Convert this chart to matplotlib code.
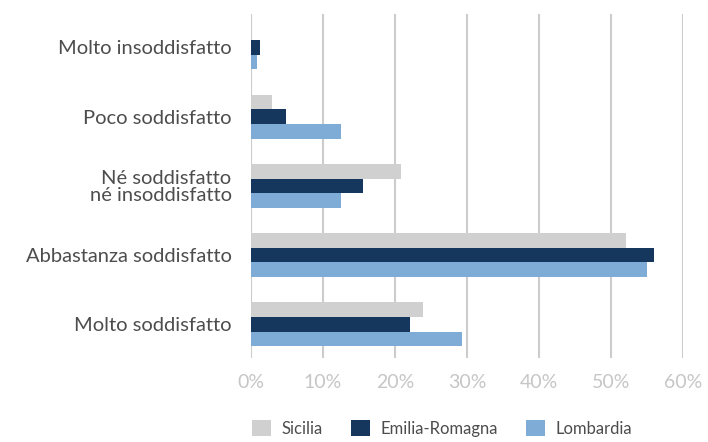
import matplotlib
matplotlib.use("Agg")
import matplotlib.pyplot as plt
from matplotlib.patches import Patch
from matplotlib.ticker import PercentFormatter

# answers, top to bottom
categories = ["Molto insoddisfatto", "Poco soddisfatto",
              "Né soddisfatto\nné insoddisfatto",
              "Abbastanza soddisfatto", "Molto soddisfatto"]

# shares (%) per region
sicilia = [0.0, 2.9, 20.8, 52.1, 23.9]
emilia = [1.3, 4.8, 15.6, 56.0, 22.1]
lombardia = [0.9, 12.5, 12.5, 55.0, 29.3]

regions = ["Sicilia", "Emilia-Romagna", "Lombardia"]
colors = ["#d0d0d0", "#15375d", "#7eacd6"]
xticks = [0, 10, 20, 30, 40, 50, 60]

plt.rcParams["font.family"] = ["Lato", "DejaVu Sans"]

fig = plt.figure(figsize=(7.08, 4.42), dpi=100)
ax = fig.add_axes([0.3545, 0.191, 0.6105, 0.777])

h = 0.212
ys = range(len(categories))
for k, (vals, col) in enumerate(zip([sicilia, emilia, lombardia], colors)):
    ax.barh([y + (k - 1) * h for y in ys], vals, height=h, color=col,
            zorder=3, linewidth=0)

ax.set_xlim(0, 60)
ax.set_ylim(4.48, -0.48)
ax.set_xticks(xticks)
ax.xaxis.set_major_formatter(PercentFormatter(decimals=0))
ax.set_yticks(list(ys))
ax.set_yticklabels(categories, fontsize=14.5, color="#4d4d4d",
                   linespacing=0.95)
ax.tick_params(axis="x", length=0, pad=12, labelsize=14, labelcolor="#c6c6c6")
ax.tick_params(axis="y", length=0, pad=14)

ax.grid(axis="x", color="#cccccc", linewidth=1.5, zorder=0)
for s in ax.spines.values():
    s.set_visible(False)

handles = [Patch(facecolor=c, edgecolor="none") for c in colors]
fig.legend(handles, regions, loc="lower left", ncol=3,
           bbox_to_anchor=(0.335, -0.022), frameon=False,
           prop={"size": 12}, labelcolor="#4d4d4d",
           handlelength=1.15, handleheight=1.15, handletextpad=0.6,
           columnspacing=1.7)

fig.savefig("out.png", dpi=100)
